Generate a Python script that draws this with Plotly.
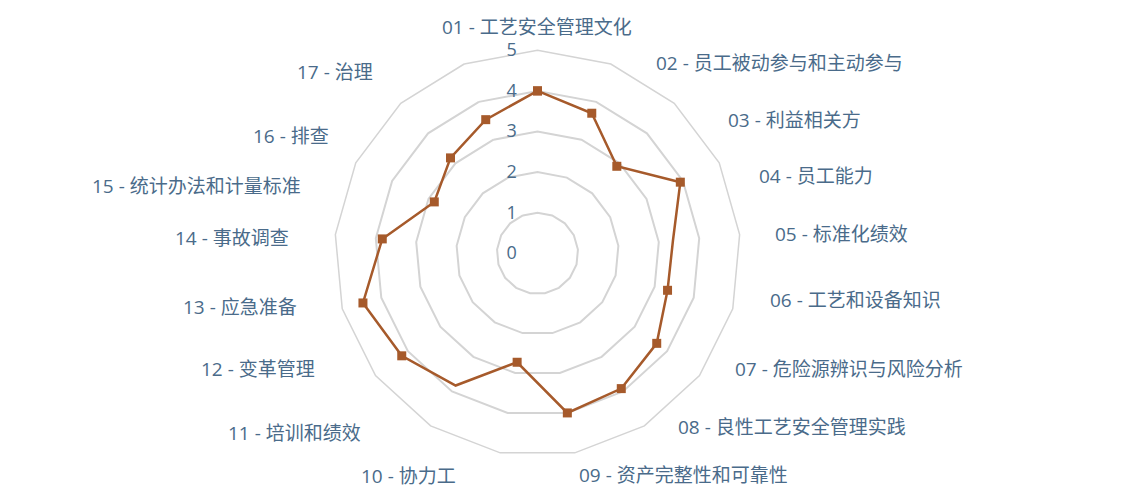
import plotly.graph_objects as go

# categories (clockwise from the top)
categories = [
    "01 - 工艺安全管理文化",
    "02 - 员工被动参与和主动参与",
    "03 - 利益相关方",
    "04 - 员工能力",
    "05 - 标准化绩效",
    "06 - 工艺和设备知识",
    "07 - 危险源辨识与风险分析",
    "08 - 良性工艺安全管理实践",
    "09 - 资产完整性和可靠性",
    "10 - 协力工",
    "11 - 培训和绩效",
    "12 - 变革管理",
    "13 - 应急准备",
    "14 - 事故调查",
    "15 - 统计办法和计量标准",
    "16 - 排查",
    "17 - 治理",
]
scores = [4.0, 3.7, 2.9, 3.93, 3.35, 3.33, 3.68, 3.92, 4.0, 2.73,
          3.83, 4.19, 4.47, 3.84, 2.84, 3.18, 3.53]
radial_ticks = [0, 1, 2, 3, 4, 5]

LINE = "#a65a2b"
TEXT = "#4a6b8a"
GRID = "#d4d4d4"
FONT = "Open Sans, Noto Sans CJK SC, sans-serif"

# page offset of the plot div inside the browser body
OFF = 8


def px(x):
    return (x - OFF) / 1140


def py(y):
    return 1 - (y - OFF) / 500


# where each category label sits around the chart (pixels, anchor side)
label_spots = [
    (537, 27, "center"), (654, 63, "left"), (726, 120, "left"),
    (757, 176, "left"), (773, 234, "left"), (768, 300, "left"),
    (733, 369, "left"), (676, 427, "left"), (577, 475, "left"),
    (458, 476, "right"), (363, 433, "right"), (317, 369, "right"),
    (299, 307, "right"), (291, 238, "right"), (303, 186, "right"),
    (331, 136, "right"), (375, 72, "right"),
]

# two points are drawn without a marker in the original
marker_sizes = [9] * len(categories)
marker_sizes[4] = 0
marker_sizes[10] = 0

fig = go.Figure()
fig.add_trace(go.Scatterpolar(
    r=scores + scores[:1],
    theta=categories + categories[:1],
    mode="lines+markers",
    line=dict(color=LINE, width=2.5),
    marker=dict(symbol="square", size=marker_sizes + marker_sizes[:1],
                color=LINE, opacity=1, line=dict(width=0)),
    showlegend=False,
))

for cat, (x, y, side) in zip(categories, label_spots):
    fig.add_annotation(
        text=cat, x=px(x), y=py(y), xref="paper", yref="paper",
        xanchor=side, yanchor="middle", showarrow=False,
        font=dict(size=19, color=TEXT),
    )

fig.update_layout(
    width=1140, height=500,
    margin=dict(l=0, r=0, t=0, b=0),
    paper_bgcolor="white",
    font=dict(family=FONT, color=TEXT, size=18),
    polar=dict(
        domain=dict(x=[px(334.5), px(740.5)], y=[py(456.3), py(50.3)]),
        bgcolor="white",
        gridshape="linear",
        radialaxis=dict(
            range=[0, 5], tickvals=radial_ticks, angle=90, tickangle=90,
            side="counterclockwise",
            showline=False, ticks="outside", ticklen=14, tickcolor="rgba(0,0,0,0)",
            gridcolor=GRID, gridwidth=1.5,
            tickfont=dict(size=18, color=TEXT),
        ),
        angularaxis=dict(
            direction="clockwise", rotation=90,
            showgrid=False, showline=True, linecolor=GRID, linewidth=1.5,
            ticks="", showticklabels=False,
        ),
    ),
)

fig.write_html("out.html")
